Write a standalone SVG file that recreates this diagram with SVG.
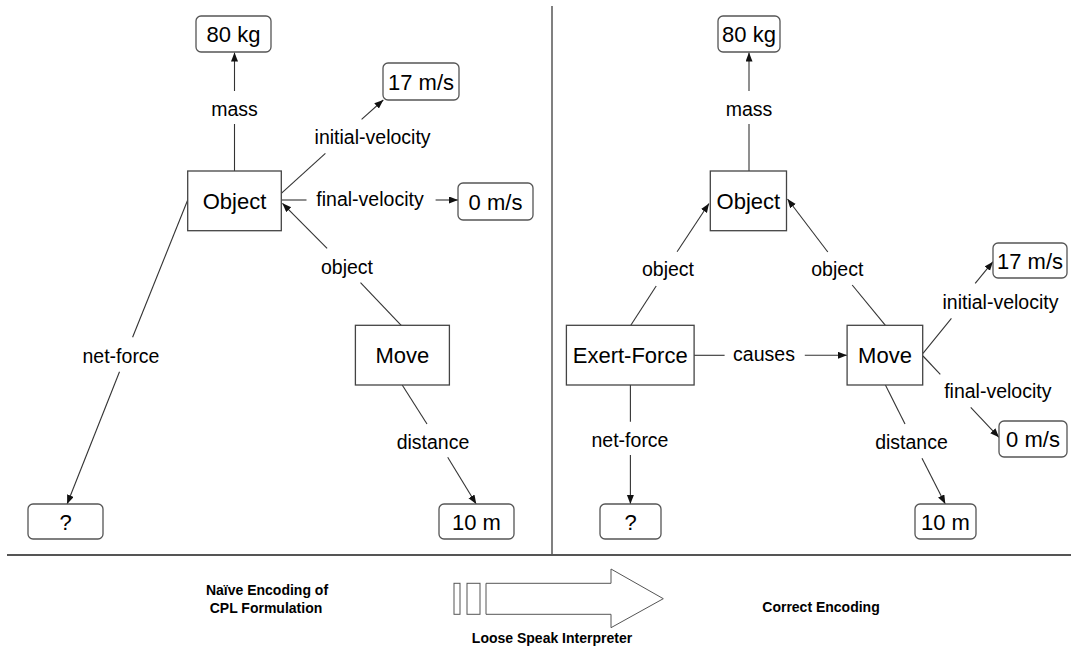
<svg xmlns="http://www.w3.org/2000/svg" width="1071" height="649" viewBox="0 0 1071 649">
<defs>
<marker id="arr" markerUnits="userSpaceOnUse" markerWidth="10" markerHeight="8" refX="9" refY="3.5" orient="auto">
<path d="M0,0 L9,3.5 L0,7 z" fill="#111"/>
</marker>
<style>
.node{fill:#fff;stroke:#444;stroke-width:1.3}
.val{fill:#fff;stroke:#555;stroke-width:1.3}
.nt{font-family:"Liberation Sans",Arial,sans-serif;font-size:22px;fill:#000;text-anchor:middle}
.el{font-family:"Liberation Sans",Arial,sans-serif;font-size:19.5px;fill:#000;text-anchor:middle}
.bt{font-family:"Liberation Sans",Arial,sans-serif;font-size:14px;font-weight:bold;fill:#000;text-anchor:middle}
.c line{stroke:#333;stroke-width:1.1;fill:none}
.a{marker-end:url(#arr)}
</style>
</defs>
<rect width="1071" height="649" fill="#fff"/>
<g id="dividers">
<line x1="552" y1="6" x2="552" y2="555" stroke="#808080" stroke-width="2"/>
<line x1="7" y1="555" x2="1071" y2="555" stroke="#555" stroke-width="2"/>
</g>
<g id="connectors" class="c">
<!-- left -->
<line x1="234.5" y1="171" x2="234.5" y2="124"/>
<line class="a" x1="234.5" y1="91" x2="234.5" y2="52.5"/>
<line x1="281.3" y1="193.3" x2="325.4" y2="153.3"/>
<line class="a" x1="361.6" y1="119.3" x2="383.3" y2="100"/>
<line x1="281.3" y1="200" x2="306.5" y2="200"/>
<line class="a" x1="435.6" y1="200" x2="458" y2="200"/>
<line x1="401.2" y1="325.3" x2="360.5" y2="282.7"/>
<line class="a" x1="327.1" y1="248.3" x2="282.4" y2="203.3"/>
<line x1="187.7" y1="200" x2="132.6" y2="337.3"/>
<line class="a" x1="119.5" y1="371.7" x2="67.1" y2="504"/>
<line x1="402.2" y1="385" x2="427" y2="424"/>
<line class="a" x1="447.7" y1="457.3" x2="476.2" y2="504"/>
<!-- right -->
<line x1="749" y1="171" x2="749" y2="124"/>
<line class="a" x1="749" y1="91" x2="749" y2="52.5"/>
<line x1="630.8" y1="325.3" x2="656.2" y2="286"/>
<line class="a" x1="677.1" y1="251.7" x2="709" y2="203.5"/>
<line x1="885.4" y1="325.3" x2="852.2" y2="285"/>
<line class="a" x1="827.8" y1="252" x2="787.5" y2="199"/>
<line x1="694" y1="355.3" x2="724.6" y2="355.3"/>
<line class="a" x1="804.8" y1="355.3" x2="847" y2="355.3"/>
<line x1="923" y1="353.3" x2="951.4" y2="318.3"/>
<line class="a" x1="975.2" y1="283.3" x2="993" y2="261.7"/>
<line x1="923" y1="356" x2="940.3" y2="374.3"/>
<line class="a" x1="970.7" y1="407.3" x2="999" y2="437.3"/>
<line x1="630.4" y1="385" x2="630.4" y2="421.7"/>
<line class="a" x1="630.4" y1="455" x2="630.4" y2="504"/>
<line x1="885.4" y1="385" x2="905" y2="424"/>
<line class="a" x1="922" y1="458.3" x2="945.3" y2="504"/>
</g>
<g id="edge-labels">
<text class="el" x="234.5" y="116">mass</text>
<text class="el" x="372.6" y="144">initial-velocity</text>
<text class="el" x="370" y="206">final-velocity</text>
<text class="el" x="347" y="274">object</text>
<text class="el" x="121" y="363">net-force</text>
<text class="el" x="433" y="448.5">distance</text>
<text class="el" x="749" y="116">mass</text>
<text class="el" x="668" y="276">object</text>
<text class="el" x="837.3" y="276">object</text>
<text class="el" x="764" y="361">causes</text>
<text class="el" x="1000.5" y="308.5">initial-velocity</text>
<text class="el" x="997.8" y="398">final-velocity</text>
<text class="el" x="630" y="447">net-force</text>
<text class="el" x="911.5" y="448.5">distance</text>
</g>
<g id="L-80kg"><rect class="val" x="196" y="16" width="75" height="36" rx="5"/><text class="nt" x="233.5" y="42">80 kg</text></g>
<g id="L-object"><rect class="node" x="187.7" y="171" width="93.6" height="59.7"/><text class="nt" x="234.5" y="209">Object</text></g>
<g id="L-17ms"><rect class="val" x="383" y="63" width="76" height="37" rx="5"/><text class="nt" x="421" y="89.5">17 m/s</text></g>
<g id="L-0ms"><rect class="val" x="458" y="183" width="75" height="37" rx="5"/><text class="nt" x="495.5" y="209.5">0 m/s</text></g>
<g id="L-move"><rect class="node" x="355.4" y="325.3" width="94" height="59.7"/><text class="nt" x="402.3" y="363">Move</text></g>
<g id="L-10m"><rect class="val" x="439" y="504" width="75" height="35" rx="5"/><text class="nt" x="476.5" y="529.5">10 m</text></g>
<g id="L-q"><rect class="val" x="28" y="504" width="75" height="35" rx="5"/><text class="nt" x="65.5" y="529.5">?</text></g>
<g id="R-80kg"><rect class="val" x="718" y="16" width="62" height="36" rx="5"/><text class="nt" x="749" y="42">80 kg</text></g>
<g id="R-object"><rect class="node" x="710.3" y="171" width="76.2" height="59.7"/><text class="nt" x="748.4" y="209">Object</text></g>
<g id="R-exert"><rect class="node" x="566.4" y="325.3" width="127.7" height="59.7"/><text class="nt" x="630.2" y="363">Exert-Force</text></g>
<g id="R-move"><rect class="node" x="847.1" y="325.3" width="75.6" height="59.7"/><text class="nt" x="885" y="363">Move</text></g>
<g id="R-17ms"><rect class="val" x="993" y="243" width="74" height="35" rx="5"/><text class="nt" x="1030" y="268.5">17 m/s</text></g>
<g id="R-0ms"><rect class="val" x="999" y="421" width="68" height="36" rx="5"/><text class="nt" x="1033" y="447">0 m/s</text></g>
<g id="R-q"><rect class="val" x="600" y="504" width="61" height="35" rx="5"/><text class="nt" x="630.5" y="529.5">?</text></g>
<g id="R-10m"><rect class="val" x="915" y="504" width="61" height="35" rx="5"/><text class="nt" x="945.5" y="529.5">10 m</text></g>
<g id="bottom">
<text class="bt" x="267" y="594.5">Naïve Encoding of</text>
<text class="bt" x="266" y="612.5">CPL Formulation</text>
<rect x="454" y="583.3" width="6" height="31" fill="#fff" stroke="#555" stroke-width="1"/>
<rect x="467" y="583.3" width="13" height="31" fill="#fff" stroke="#555" stroke-width="1"/>
<polygon points="486,583.3 611,583.3 611,569 663.3,598.7 611,627.7 611,614.3 486,614.3" fill="#fff" stroke="#555" stroke-width="1"/>
<text class="bt" x="552" y="642.5">Loose Speak Interpreter</text>
<text class="bt" x="821" y="612.3">Correct Encoding</text>
</g>
</svg>
